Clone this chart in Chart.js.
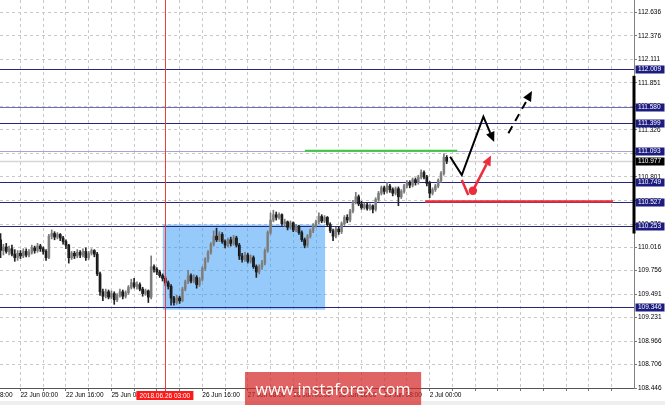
<!DOCTYPE html>
<html>
<head>
<meta charset="utf-8">
<script src="https://cdn.jsdelivr.net/npm/chart.js@4.4.0/dist/chart.umd.min.js"></script>
<style>
  html, body { margin: 0; padding: 0; background: #fff; }
  #wrap { width: 665px; height: 405px; }
</style>
</head>
<body>
<div id="wrap"><canvas id="myChart" width="665" height="405"></canvas></div>
<script>
// H1 candles, bar 0 = 22 Jun 00:00
const firstBar = -7;
const opens = [
  110.10, 109.98, 110.02, 109.97, 110.00, 109.94, 109.90,
  109.95, 109.92, 109.97, 109.93, 109.96, 110.01, 109.98, 110.03, 110.00, 109.97,
  109.90, 110.14, 110.17, 110.13, 110.16, 110.12, 110.08, 110.04, 109.90, 109.95,
  109.92, 109.96, 109.93, 109.97, 109.90, 109.95, 109.98, 109.94, 109.72, 109.52,
  109.47, 109.52, 109.46, 109.50, 109.43, 109.48, 109.52, 109.47, 109.51, 109.57,
  109.62, 109.58, 109.60, 109.55, 109.50, 109.53, 109.46, 109.80, 109.77, 109.74,
  109.70, 109.67, 109.62, 109.58, 109.45, 109.40, 109.45, 109.42, 109.55, 109.63,
  109.70, 109.64, 109.68, 109.60, 109.66, 109.78, 109.88, 109.96, 110.05, 110.14,
  110.10, 110.16, 110.08, 110.04, 110.10, 110.06, 110.12, 110.04, 109.92, 109.88,
  109.93, 109.86, 109.90, 109.80, 109.74, 109.80, 109.84, 109.98, 110.18, 110.32,
  110.38, 110.35, 110.38, 110.28, 110.30, 110.24, 110.29, 110.21, 110.25, 110.18,
  110.10, 110.04, 110.14, 110.20, 110.26, 110.30, 110.36, 110.31, 110.35, 110.27,
  110.20, 110.14, 110.22, 110.19, 110.28, 110.35, 110.32, 110.42, 110.52, 110.58,
  110.50, 110.46, 110.49, 110.45, 110.48, 110.44, 110.55, 110.62, 110.68, 110.64,
  110.70, 110.66, 110.62, 110.67, 110.58, 110.64, 110.70, 110.74, 110.71, 110.77,
  110.74, 110.80, 110.85, 110.80, 110.73, 110.62, 110.66, 110.70, 110.76, 110.84,
  111.02
];
const highs = [
  110.17, 110.05, 110.06, 110.03, 110.04, 109.99, 109.98,
  109.98, 110.00, 110.00, 109.99, 110.04, 110.03, 110.06, 110.05, 110.02, 109.99,
  110.16, 110.21, 110.19, 110.18, 110.17, 110.14, 110.10, 110.05, 109.97, 109.97,
  109.99, 109.98, 110.00, 110.01, 109.97, 110.00, 109.99, 109.96, 109.74, 109.55,
  109.55, 109.54, 109.53, 109.52, 109.50, 109.55, 109.54, 109.53, 109.59, 109.66,
  109.67, 109.63, 109.62, 109.57, 109.55, 109.54, 109.92, 109.82, 109.79, 109.76,
  109.72, 109.69, 109.64, 109.60, 109.47, 109.48, 109.47, 109.57, 109.65, 109.76,
  109.72, 109.71, 109.70, 109.68, 109.80, 109.90, 109.98, 110.07, 110.20, 110.23,
  110.19, 110.18, 110.10, 110.12, 110.13, 110.15, 110.14, 110.06, 109.95, 109.96,
  109.95, 109.93, 109.92, 109.82, 109.82, 109.87, 110.00, 110.20, 110.40, 110.43,
  110.41, 110.40, 110.39, 110.33, 110.31, 110.31, 110.30, 110.27, 110.26, 110.20,
  110.12, 110.16, 110.22, 110.28, 110.32, 110.40, 110.38, 110.37, 110.36, 110.29,
  110.22, 110.24, 110.25, 110.30, 110.37, 110.38, 110.44, 110.54, 110.63, 110.60,
  110.53, 110.51, 110.51, 110.50, 110.49, 110.57, 110.64, 110.70, 110.70, 110.74,
  110.72, 110.68, 110.69, 110.69, 110.66, 110.72, 110.76, 110.76, 110.79, 110.79,
  110.82, 110.88, 110.87, 110.82, 110.75, 110.68, 110.72, 110.78, 110.86, 111.06,
  111.04
];
const lows = [
  109.90, 109.93, 109.95, 109.93, 109.92, 109.86, 109.87,
  109.89, 109.90, 109.91, 109.91, 109.94, 109.95, 109.96, 109.97, 109.94, 109.87,
  109.89, 110.11, 110.10, 110.11, 110.09, 110.05, 110.00, 109.84, 109.88, 109.89,
  109.90, 109.90, 109.91, 109.87, 109.88, 109.93, 109.91, 109.70, 109.48, 109.42,
  109.45, 109.44, 109.44, 109.38, 109.41, 109.46, 109.44, 109.45, 109.49, 109.55,
  109.56, 109.55, 109.53, 109.47, 109.48, 109.40, 109.44, 109.74, 109.71, 109.68,
  109.64, 109.59, 109.55, 109.37, 109.37, 109.38, 109.39, 109.41, 109.53, 109.61,
  109.62, 109.62, 109.56, 109.58, 109.64, 109.76, 109.85, 109.94, 110.03, 110.08,
  110.08, 110.06, 110.01, 110.02, 110.03, 110.04, 110.02, 109.88, 109.85, 109.86,
  109.84, 109.84, 109.78, 109.68, 109.72, 109.77, 109.82, 109.96, 110.16, 110.30,
  110.32, 110.33, 110.26, 110.25, 110.21, 110.22, 110.19, 110.19, 110.16, 110.08,
  110.01, 110.02, 110.12, 110.18, 110.24, 110.28, 110.29, 110.29, 110.25, 110.18,
  110.09, 110.12, 110.16, 110.17, 110.26, 110.29, 110.30, 110.40, 110.50, 110.48,
  110.44, 110.44, 110.43, 110.43, 110.40, 110.42, 110.53, 110.60, 110.61, 110.62,
  110.63, 110.59, 110.60, 110.48, 110.56, 110.62, 110.68, 110.68, 110.69, 110.71,
  110.72, 110.78, 110.78, 110.70, 110.57, 110.60, 110.64, 110.68, 110.74, 110.82,
  110.95
];
const closes = [
  109.98, 110.02, 109.97, 110.00, 109.94, 109.90, 109.95,
  109.92, 109.97, 109.93, 109.96, 110.01, 109.98, 110.03, 110.00, 109.97, 109.90,
  110.14, 110.17, 110.13, 110.16, 110.12, 110.08, 110.04, 109.90, 109.95, 109.92,
  109.96, 109.93, 109.97, 109.90, 109.95, 109.98, 109.94, 109.72, 109.52, 109.47,
  109.52, 109.46, 109.50, 109.43, 109.48, 109.52, 109.47, 109.51, 109.57, 109.62,
  109.58, 109.60, 109.55, 109.50, 109.53, 109.46, 109.80, 109.77, 109.74, 109.70,
  109.67, 109.62, 109.58, 109.45, 109.40, 109.45, 109.42, 109.55, 109.63, 109.70,
  109.64, 109.68, 109.60, 109.66, 109.78, 109.88, 109.96, 110.05, 110.14, 110.10,
  110.16, 110.08, 110.04, 110.10, 110.06, 110.12, 110.04, 109.92, 109.88, 109.93,
  109.86, 109.90, 109.80, 109.74, 109.80, 109.84, 109.98, 110.18, 110.32, 110.38,
  110.35, 110.38, 110.28, 110.30, 110.24, 110.29, 110.21, 110.25, 110.18, 110.10,
  110.04, 110.14, 110.20, 110.26, 110.30, 110.36, 110.31, 110.35, 110.27, 110.20,
  110.14, 110.22, 110.19, 110.28, 110.35, 110.32, 110.42, 110.52, 110.58, 110.50,
  110.46, 110.49, 110.45, 110.48, 110.44, 110.55, 110.62, 110.68, 110.64, 110.70,
  110.66, 110.62, 110.67, 110.58, 110.64, 110.70, 110.74, 110.71, 110.77, 110.74,
  110.80, 110.85, 110.80, 110.73, 110.62, 110.66, 110.70, 110.76, 110.84, 111.02,
  110.977
];

// price axis
const priceMin = 108.446;
const priceMax = 112.776;
const priceTicks = [108.446, 108.706, 108.966, 109.231, 109.491, 109.756, 110.016, 110.276,
  110.536, 110.801, 111.061, 111.326, 111.586, 111.851, 112.111, 112.376, 112.636];

// time axis (bar numbers)
const barMin = -7.2;
const barMax = 215.9;
const gridBars = [-16, -8, 0, 8, 16, 24, 32, 40, 48, 56, 64, 72, 80, 88, 96, 104, 112, 120,
  128, 136, 144, 152, 160, 168, 176, 184, 192, 200, 208];
const labelBars = [-16, 0, 16, 32, 64, 80, 96, 112, 128, 144];
const timeLabels = ['21 Jun 08:00', '22 Jun 00:00', '22 Jun 16:00', '25 Jun 08:00', '26 Jun 16:00',
  '27 Jun 08:00', '28 Jun 00:00', '28 Jun 16:00', '29 Jun 08:00', '2 Jul 00:00'];

// drawn objects
const levels = [112.009, 111.580, 111.399, 111.093, 110.749, 110.527, 110.253, 109.346];
const bidPrice = 110.977;
const crossBar = 51;
const crossLabel = '2018.06.26 03:00';
const boxBars = [50.1, 107.2];
const boxPrices = [109.32, 110.27];
const greenBars = [100.1, 153.7];
const greenPrice = 111.093;
const redBars = [142.4, 208.5];
const redPrice = 110.527;
const blackPathBars = [151.2, 155.3, 162.9, 166.7];
const blackPathPrices = [111.027, 110.823, 111.474, 111.191];
const dashBars = [171.7, 180.0];
const dashPrices = [111.288, 111.760];
const redPathBars = [155.3, 157.6];
const redPathPrices = [110.767, 110.600];
const redDot = [159.2, 110.648];
const redArrowEnd = [165.6, 111.041];
const sideBarPrices = [110.17, 111.93];
const watermark = 'www.instaforex.com';
const watermarkBars = [79.0, 141.0];

Chart.defaults.font.family = '"Liberation Sans", Arial, sans-serif';
Chart.defaults.font.size = 6.5;

const bars = opens.map((o, k) => firstBar + k);
const isUp = opens.map((o, k) => closes[k] >= o);

function arrowHead(ctx, x0, y0, x1, y1, len, half) {
  const a = Math.atan2(y1 - y0, x1 - x0);
  const bx = x1 - len * Math.cos(a), by = y1 - len * Math.sin(a);
  ctx.beginPath();
  ctx.moveTo(x1, y1);
  ctx.lineTo(bx + half * Math.sin(a), by - half * Math.cos(a));
  ctx.lineTo(bx - half * Math.sin(a), by + half * Math.cos(a));
  ctx.closePath();
  ctx.fill();
  return [bx, by];
}

function hLine(ctx, area, y, color, width) {
  ctx.strokeStyle = color;
  ctx.lineWidth = width;
  ctx.beginPath();
  ctx.moveTo(area.left, y);
  ctx.lineTo(area.right, y);
  ctx.stroke();
}

const terminalLook = {
  id: 'terminalLook',
  beforeDraw(chart) {
    const ctx = chart.ctx;
    ctx.save();
    ctx.fillStyle = '#fff';
    ctx.fillRect(0, 0, chart.width, chart.height);
    ctx.fillStyle = '#efefef';
    ctx.fillRect(0, chart.height - 4, chart.width, 4);
    ctx.restore();
  },
  beforeDatasetsDraw(chart) {
    const {ctx, chartArea: area, scales: {x, y}} = chart;
    ctx.save();
    // rectangle
    ctx.fillStyle = 'rgba(45, 150, 245, 0.5)';
    const bx0 = x.getPixelForValue(boxBars[0]), bx1 = x.getPixelForValue(boxBars[1]);
    const by0 = y.getPixelForValue(boxPrices[1]), by1 = y.getPixelForValue(boxPrices[0]);
    ctx.fillRect(bx0, by0, bx1 - bx0, by1 - by0);
    // level lines
    levels.forEach(v => {
      let c = '#26267f';
      if (v === 111.580) c = '#6e6eb6';
      if (v === 111.093) c = '#a4a4d8';
      hLine(ctx, area, Math.round(y.getPixelForValue(v)) + 0.5, c, 1);
    });
    hLine(ctx, area, Math.round(y.getPixelForValue(bidPrice)) + 0.5, '#d6d6d6', 1.5);
    ctx.restore();
  },
  afterDatasetsDraw(chart) {
    const {ctx, chartArea: area, scales: {x, y}} = chart;
    ctx.save();
    // date crosshair
    const cx = Math.round(x.getPixelForValue(crossBar)) + 0.5;
    ctx.strokeStyle = '#ee3b3b';
    ctx.lineWidth = 1;
    ctx.beginPath();
    ctx.moveTo(cx, area.top);
    ctx.lineTo(cx, area.bottom + 3);
    ctx.stroke();

    // green and red levels
    ctx.lineWidth = 2;
    ctx.strokeStyle = '#3cc83c';
    ctx.beginPath();
    ctx.moveTo(x.getPixelForValue(greenBars[0]), y.getPixelForValue(greenPrice));
    ctx.lineTo(x.getPixelForValue(greenBars[1]), y.getPixelForValue(greenPrice));
    ctx.stroke();
    ctx.lineWidth = 2.5;
    ctx.strokeStyle = '#ec2d3c';
    ctx.beginPath();
    ctx.moveTo(x.getPixelForValue(redBars[0]), y.getPixelForValue(redPrice));
    ctx.lineTo(x.getPixelForValue(redBars[1]), y.getPixelForValue(redPrice));
    ctx.stroke();

    // black zigzag arrow
    const bp = blackPathBars.map((b, k) => [x.getPixelForValue(b), y.getPixelForValue(blackPathPrices[k])]);
    ctx.fillStyle = '#000';
    const n = bp.length;
    const base = arrowHead(ctx, bp[n - 2][0], bp[n - 2][1], bp[n - 1][0], bp[n - 1][1], 10, 4.5);
    ctx.strokeStyle = '#000';
    ctx.lineWidth = 2;
    ctx.lineJoin = 'miter';
    ctx.beginPath();
    ctx.moveTo(bp[0][0], bp[0][1]);
    for (let k = 1; k < n - 1; k++) ctx.lineTo(bp[k][0], bp[k][1]);
    ctx.lineTo(base[0], base[1]);
    ctx.stroke();

    // dashed arrow
    const d0 = [x.getPixelForValue(dashBars[0]), y.getPixelForValue(dashPrices[0])];
    const d1 = [x.getPixelForValue(dashBars[1]), y.getPixelForValue(dashPrices[1])];
    const db = arrowHead(ctx, d0[0], d0[1], d1[0], d1[1], 10, 4.5);
    ctx.setLineDash([8, 6]);
    ctx.beginPath();
    ctx.moveTo(d0[0], d0[1]);
    ctx.lineTo(db[0], db[1]);
    ctx.stroke();
    ctx.setLineDash([]);

    // red arrow with dot
    ctx.strokeStyle = '#ec2d3c';
    ctx.fillStyle = '#ec2d3c';
    ctx.lineWidth = 2.5;
    const r0 = [x.getPixelForValue(redPathBars[0]), y.getPixelForValue(redPathPrices[0])];
    const r1 = [x.getPixelForValue(redPathBars[1]), y.getPixelForValue(redPathPrices[1])];
    const rd = [x.getPixelForValue(redDot[0]), y.getPixelForValue(redDot[1])];
    const re = [x.getPixelForValue(redArrowEnd[0]), y.getPixelForValue(redArrowEnd[1])];
    ctx.beginPath();
    ctx.moveTo(r0[0], r0[1]);
    ctx.lineTo(r1[0], r1[1]);
    ctx.stroke();
    const rb = arrowHead(ctx, rd[0], rd[1], re[0], re[1], 10, 4.5);
    ctx.beginPath();
    ctx.moveTo(rd[0], rd[1]);
    ctx.lineTo(rb[0], rb[1]);
    ctx.stroke();
    ctx.beginPath();
    ctx.arc(rd[0], rd[1], 4.2, 0, Math.PI * 2);
    ctx.fill();

    // black bar on the price scale edge
    ctx.strokeStyle = '#000';
    ctx.lineWidth = 3;
    ctx.beginPath();
    ctx.moveTo(area.right, y.getPixelForValue(sideBarPrices[0]));
    ctx.lineTo(area.right, y.getPixelForValue(sideBarPrices[1]));
    ctx.stroke();
    ctx.restore();
  },
  afterDraw(chart) {
    const {ctx, chartArea: area, scales: {x, y}} = chart;
    ctx.save();
    ctx.font = '6.5px "Liberation Sans", Arial, sans-serif';
    ctx.textBaseline = 'middle';
    const tag = (v, bg) => {
      const yy = Math.round(y.getPixelForValue(v));
      ctx.fillStyle = bg;
      ctx.fillRect(area.right + 1.5, yy - 3.5, 29, 8);
      ctx.fillStyle = '#fff';
      ctx.textAlign = 'left';
      ctx.fillText(v.toFixed(3), area.right + 4, yy + 0.5);
    };
    levels.forEach(v => tag(v, '#1c1c80'));
    tag(bidPrice, '#000');

    // crosshair date tag
    const cx = x.getPixelForValue(crossBar);
    ctx.fillStyle = '#ff1a1a';
    ctx.fillRect(cx - 29, area.bottom + 3, 57, 9);
    ctx.fillStyle = '#fff';
    ctx.textAlign = 'center';
    ctx.fillText(crossLabel, cx - 0.5, area.bottom + 8);

    // watermark
    const wx0 = x.getPixelForValue(watermarkBars[0]), wx1 = x.getPixelForValue(watermarkBars[1]);
    ctx.fillStyle = 'rgba(214, 40, 40, 0.72)';
    ctx.fillRect(wx0, area.bottom - 16, wx1 - wx0, chart.height - area.bottom + 16);
    ctx.font = '100px "Open Sans", sans-serif';
    const fs = 100 * 155 / ctx.measureText(watermark).width;
    ctx.font = fs + 'px "Open Sans", sans-serif';
    ctx.fillStyle = '#fff';
    ctx.textAlign = 'center';
    ctx.textBaseline = 'alphabetic';
    ctx.fillText(watermark, (wx0 + wx1) / 2, area.bottom + 7);
    ctx.restore();
  }
};

const ctx = document.getElementById('myChart');
const myChart = new Chart(ctx, {
  type: 'bar',
  data: {
    datasets: [
      {
        label: 'wick',
        data: bars.map((b, k) => ({ x: b, y: [lows[k], highs[k]] })),
        backgroundColor: isUp.map(u => u ? '#7a7a7a' : '#222'),
        barThickness: 1,
        grouped: false,
        borderWidth: 0
      },
      {
        label: 'body',
        data: bars.map((b, k) => ({ x: b, y: [opens[k], closes[k]] })),
        backgroundColor: isUp.map((u, k) => k === crossBar - firstBar ? '#7a1010' : (u ? '#8e8e8e' : '#000')),
        barThickness: 2,
        grouped: false,
        borderWidth: 0
      }
    ]
  },
  options: {
    responsive: false,
    animation: false,
    devicePixelRatio: 1,
    layout: { padding: 0 },
    plugins: { legend: { display: false }, tooltip: { enabled: false } },
    scales: {
      x: {
        type: 'linear',
        min: barMin,
        max: barMax,
        offset: false,
        afterBuildTicks: s => { s.ticks = gridBars.map(v => ({ value: v })); },
        afterFit: s => { s.height = 17; s.paddingLeft = 0; s.paddingRight = 0; },
        grid: { offset: false, color: '#c9c9c9', tickLength: 3, tickColor: '#777' },
        border: { display: true, color: '#555', dash: [3, 3] },
        ticks: {
          autoSkip: false,
          maxRotation: 0,
          align: 'start',
          padding: 0,
          color: '#000',
          callback: v => {
            const k = labelBars.indexOf(v);
            return k >= 0 ? timeLabels[k] : '';
          }
        }
      },
      y: {
        type: 'linear',
        position: 'right',
        min: priceMin,
        max: priceMax,
        afterBuildTicks: s => { s.ticks = priceTicks.map(v => ({ value: v })); },
        afterFit: s => { s.width = 31; s.paddingTop = 0; s.paddingBottom = 0; },
        grid: { color: '#c9c9c9', tickLength: 3, tickColor: '#777' },
        border: { display: true, color: '#808080', dash: [3, 3] },
        ticks: {
          padding: 1,
          color: '#000',
          crossAlign: 'near',
          callback: v => v.toFixed(3)
        }
      }
    }
  },
  plugins: [terminalLook]
});
</script>
</body>
</html>
